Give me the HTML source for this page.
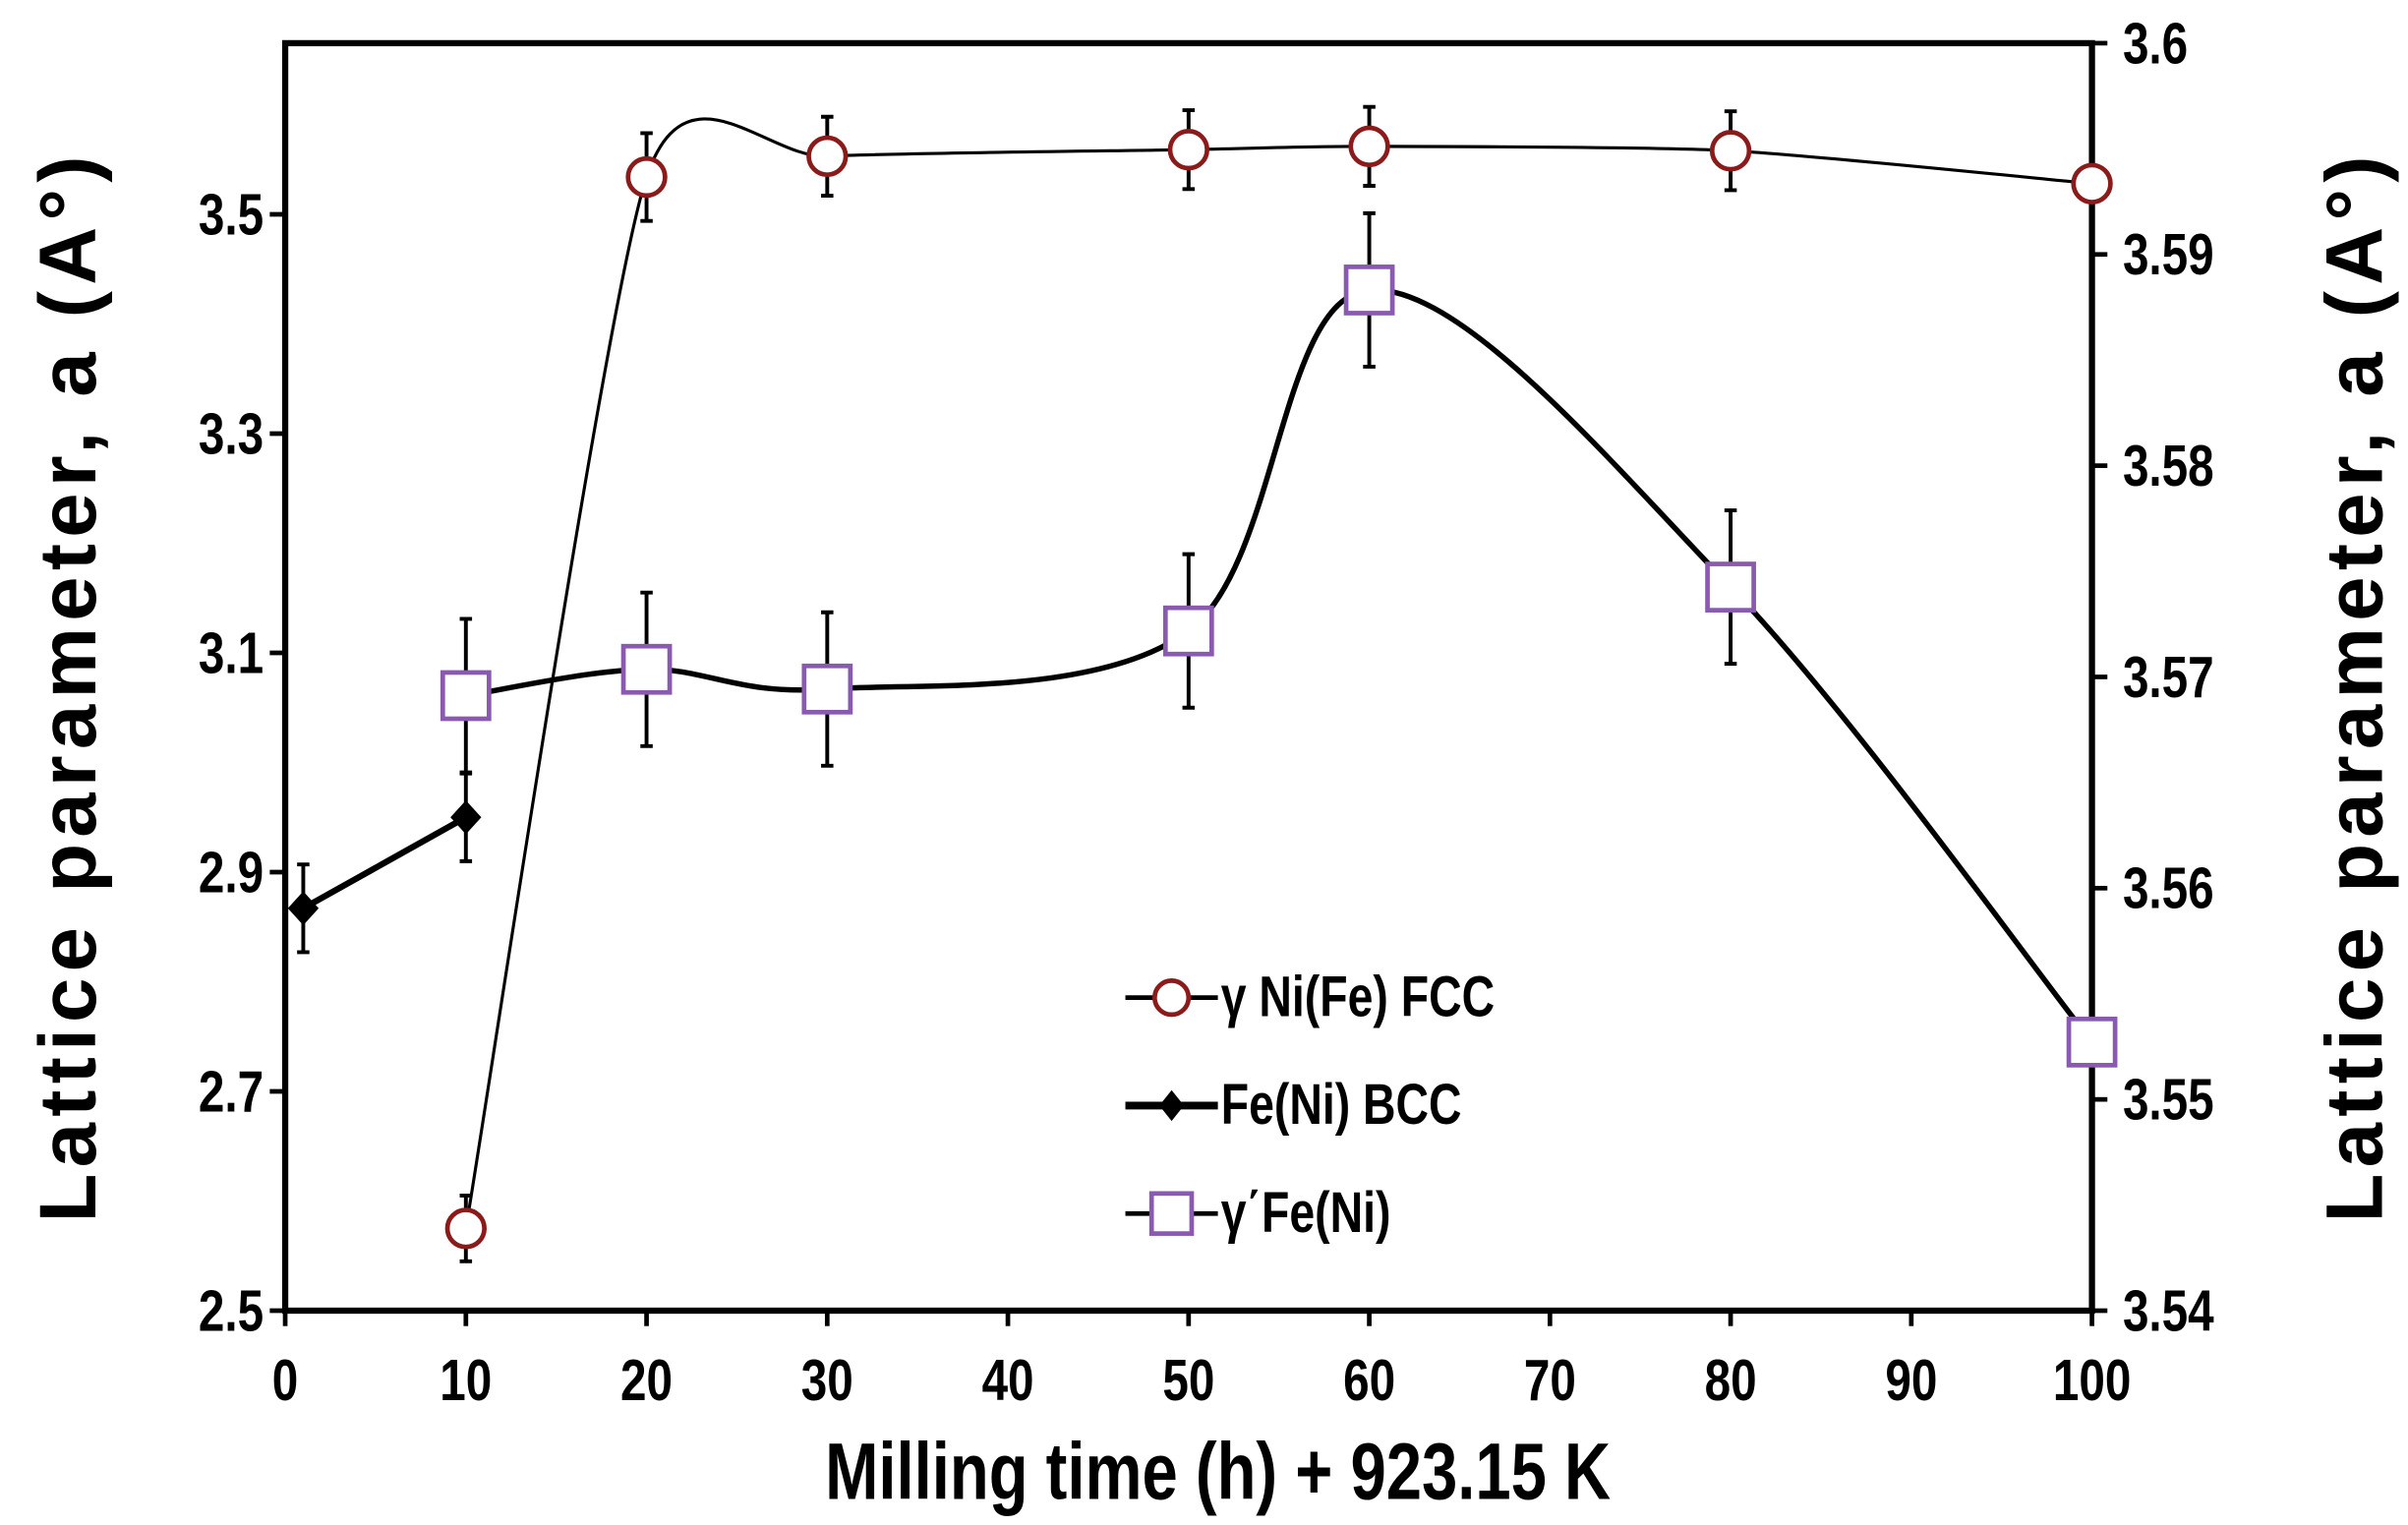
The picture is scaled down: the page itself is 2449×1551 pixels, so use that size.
<!DOCTYPE html>
<html><head><meta charset="utf-8"><style>
html,body{margin:0;padding:0;background:#fff;}
svg{display:block;}
text{font-family:"Liberation Sans",sans-serif;font-weight:bold;fill:#000;}
</style></head><body>
<svg id="chart" width="2449" height="1551" viewBox="0 0 1562 989" preserveAspectRatio="none" xmlns="http://www.w3.org/2000/svg">
<g id="axes"></g><g id="series"></g>
<g>
  <line x1="730" y1="647" x2="790" y2="647" stroke="#000" stroke-width="3"/>
  <circle cx="760" cy="647" r="11" fill="#fff" stroke="#8b1a1a" stroke-width="3"/>
  <text x="792" y="659" font-size="37" transform="translate(792,0) scale(0.8,1) translate(-792,0)">γ Ni(Fe) FCC</text>
  <line x1="730" y1="717" x2="790" y2="717" stroke="#000" stroke-width="5"/>
  <path d="M760 707 L768 717 L760 727 L752 717Z" fill="#000"/>
  <text x="792" y="729" font-size="37" transform="translate(792,0) scale(0.8,1) translate(-792,0)">Fe(Ni) BCC</text>
  <line x1="730" y1="787" x2="790" y2="787" stroke="#000" stroke-width="3"/>
  <rect x="747" y="774" width="26" height="26" fill="#fff" stroke="#8a5ab0" stroke-width="3"/>
  <text x="792" y="799" font-size="37" transform="translate(792,0) scale(0.8,1) translate(-792,0)">γ΄Fe(Ni)</text>
</g>
<text x="790" y="972" font-size="52" text-anchor="middle" transform="translate(790,0) scale(0.8,1) translate(-790,0)">Milling time (h) + 923.15 K</text>
<text transform="translate(62,445) rotate(-90)" font-size="52" text-anchor="middle" letter-spacing="4">Lattice parameter, a (A°)</text>
<text transform="translate(1545,445) rotate(-90)" font-size="52" text-anchor="middle" letter-spacing="4">Lattice parameter, a (A°)</text>
</svg>
<script>
const xTicks=[0,10,20,30,40,50,60,70,80,90,100];
const yLeftTicks=[2.5,2.7,2.9,3.1,3.3,3.5];
const yRightTicks=[3.54,3.55,3.56,3.57,3.58,3.59,3.6];
const fccX=[10,20,30,50,60,80,100];
const fccY=[2.575,3.534,3.553,3.559,3.562,3.558,3.528];
const fccErr=[0.03,0.04,0.036,0.036,0.036,0.036,0];
const bccX=[1,10];
const bccY=[2.867,2.95];
const bccErr=[0.04,0.04];
const gpX=[10,20,30,50,60,80,100];
const gpY=[3.061,3.085,3.067,3.12,3.431,3.16,2.745];
const gpErr=[0.07,0.07,0.07,0.07,0.07,0.07,0];

const L=185,R=1357,T=28,B=850;
const sx=v=>L+(v-0)/100*(R-L);
const sy=v=>B-(v-2.5)*711;
const sy2=v=>B-(v-3.54)/0.06*(B-T);
const NS="http://www.w3.org/2000/svg";
function mk(tag,attrs,parent){const e=document.createElementNS(NS,tag);for(const k in attrs)e.setAttribute(k,attrs[k]);parent.appendChild(e);return e;}
const ax=document.getElementById('axes'), se=document.getElementById('series');
let fr=mk('rect',{x:L,y:T,width:R-L,height:B-T,fill:'none',stroke:'#000','stroke-width':4},ax);


xTicks.forEach(t=>{
  mk('line',{x1:sx(t),y1:B,x2:sx(t),y2:B+10,stroke:'#000','stroke-width':3},ax);
  const tx=mk('text',{x:sx(t),y:B+58,'font-size':38,'text-anchor':'middle',transform:`translate(${sx(t)},0) scale(0.8,1) translate(${-sx(t)},0)`},ax);
  tx.textContent=t;
  
  
});
yLeftTicks.forEach(t=>{
  mk('line',{x1:L-10,y1:sy(t),x2:L,y2:sy(t),stroke:'#000','stroke-width':3},ax);
  const tx=mk('text',{x:L-14,y:sy(t)+13,'font-size':38,'text-anchor':'end',transform:`translate(${L-14},0) scale(0.8,1) translate(${-(L-14)},0)`},ax);
  tx.textContent=t.toFixed(1);
  
  
});
yRightTicks.forEach(t=>{
  mk('line',{x1:R,y1:sy2(t),x2:R+10,y2:sy2(t),stroke:'#000','stroke-width':3},ax);
  const tx=mk('text',{x:R+20,y:sy2(t)+13,'font-size':38,'text-anchor':'start',transform:`translate(${R+20},0) scale(0.8,1) translate(${-(R+20)},0)`},ax);
  tx.textContent=(Math.round(t*100)/100).toString();
  
  
});
function smooth(xs,ys,k){
  const p=xs.map((x,i)=>[sx(x),sy(ys[i])]);
  let d=`M${p[0][0]},${p[0][1]}`;
  for(let i=0;i<p.length-1;i++){
    const p0=p[Math.max(i-1,0)],p1=p[i],p2=p[i+1],p3=p[Math.min(i+2,p.length-1)];
    const c1=[p1[0]+(p2[0]-p0[0])/k,p1[1]+(p2[1]-p0[1])/k];
    const c2=[p2[0]-(p3[0]-p1[0])/k,p2[1]-(p3[1]-p1[1])/k];
    d+=` C${c1[0]},${c1[1]} ${c2[0]},${c2[1]} ${p2[0]},${p2[1]}`;
  }
  return d;
}
function errs(xs,ys,es,name){
  xs.forEach((x,i)=>{ if(!es[i])return;
    const g=mk('path',{d:`M${sx(x)},${sy(ys[i]+es[i])}V${sy(ys[i]-es[i])}M${sx(x)-4},${sy(ys[i]+es[i])}h8M${sx(x)-4},${sy(ys[i]-es[i])}h8`,stroke:'#000','stroke-width':2.5,fill:'none'},se);
    
    
  });
}
errs(gpX,gpY,gpErr,'gamma-prime');
let l=mk('path',{d:smooth(gpX,gpY,6),stroke:'#000','stroke-width':3.5,fill:'none'},se);


errs(bccX,bccY,bccErr,'bcc');
l=mk('path',{d:smooth(bccX,bccY,6),stroke:'#000','stroke-width':4,fill:'none'},se);


errs(fccX,fccY,fccErr,'fcc');
l=mk('path',{d:smooth(fccX,fccY,9),stroke:'#000','stroke-width':2,fill:'none'},se);


gpX.forEach((x,i)=>{
  const r=mk('rect',{x:sx(x)-15,y:sy(gpY[i])-15,width:30,height:30,fill:'#fff',stroke:'#8a5ab0','stroke-width':3},se);
  
  
});
bccX.forEach((x,i)=>{
  const cx=sx(x),cy=sy(bccY[i]);
  const r=mk('path',{d:`M${cx} ${cy-11}L${cx+10} ${cy}L${cx} ${cy+11}L${cx-10} ${cy}Z`,fill:'#000'},se);
  
  
});
fccX.forEach((x,i)=>{
  const c=mk('circle',{cx:sx(x),cy:sy(fccY[i]),r:12,fill:'#fff',stroke:'#8b1a1a','stroke-width':3},se);
  
  
});
</script>
</body></html>
